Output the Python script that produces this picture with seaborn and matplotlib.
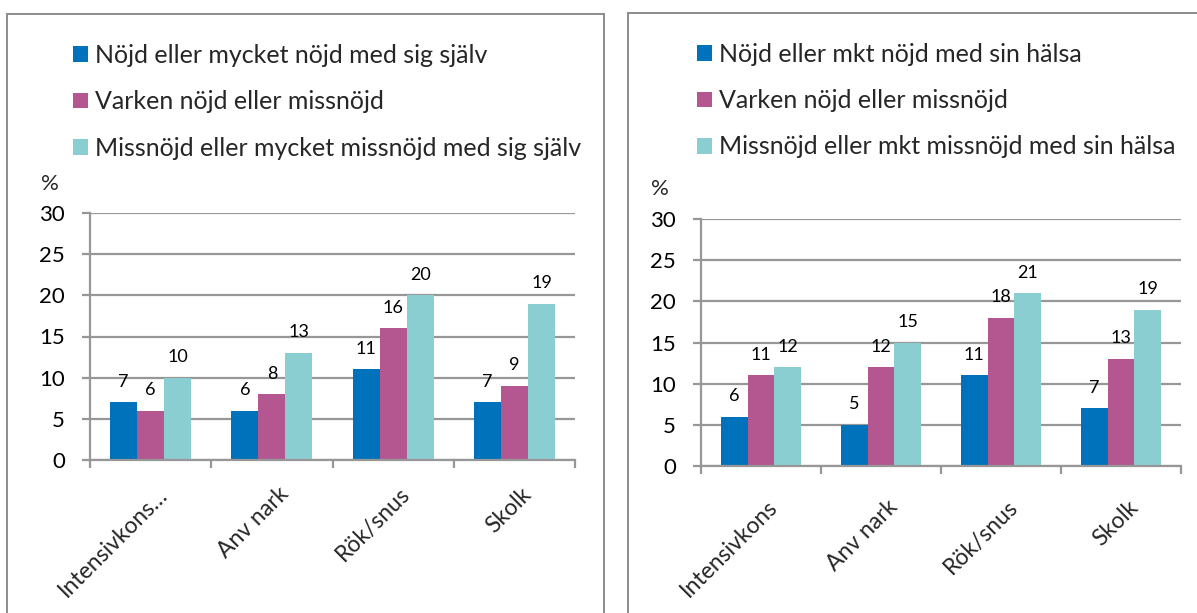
import matplotlib
matplotlib.use("Agg")
import matplotlib.pyplot as plt
from matplotlib.patches import Rectangle
from matplotlib.transforms import ScaledTranslation
import seaborn as sns
import pandas as pd

# ---- data ----
categories_left = ["Intensivkons…", "Anv nark", "Rök/snus", "Skolk"]
series_left = ["Nöjd eller mycket nöjd med sig själv",
               "Varken nöjd eller missnöjd",
               "Missnöjd eller mycket missnöjd med sig själv"]
left_nojd = [7, 6, 11, 7]
left_varken = [6, 8, 16, 9]
left_missnojd = [10, 13, 20, 19]

categories_right = ["Intensivkons", "Anv nark", "Rök/snus", "Skolk"]
series_right = ["Nöjd eller mkt nöjd med sin hälsa",
                "Varken nöjd eller missnöjd",
                "Missnöjd eller mkt missnöjd med sin hälsa"]
right_nojd = [6, 5, 11, 7]
right_varken = [11, 12, 18, 13]
right_missnojd = [12, 15, 21, 19]

y_ticks = [0, 5, 10, 15, 20, 25, 30]
colors = ["#0072BC", "#B4568F", "#8BCED2"]
GRID = "#979797"

sns.set_theme(style="white")
FONT = ["Lato", "DejaVu Sans"]
plt.rcParams["font.family"] = FONT

W, H = 1197, 613
fig = plt.figure(figsize=(W / 100, H / 100), dpi=100)
fig.patch.set_facecolor("white")


def long_df(cats, series, vals):
    rows = []
    for s, v in zip(series, vals):
        for c, x in zip(cats, v):
            rows.append({"cat": c, "series": s, "value": x})
    return pd.DataFrame(rows)


def px_rect(x0, y0, x1, y1):
    # pixel coords (top-left origin) -> figure fraction [left, bottom, w, h]
    return [x0 / W, 1 - y1 / H, (x1 - x0) / W, (y1 - y0) / H]


def draw_panel(box, axrect, cats, series, vals, leg_xy, pct_xy, xpad):
    # border box
    fig.add_artist(Rectangle((box[0] / W, 1 - box[3] / H),
                             (box[2] - box[0]) / W, (box[3] - box[1]) / H,
                             transform=fig.transFigure, fill=False,
                             edgecolor="#8C8C8C", linewidth=1.4, zorder=0))
    ax = fig.add_axes(px_rect(*axrect))
    df = long_df(cats, series, vals)
    sns.barplot(data=df, x="cat", y="value", hue="series", order=cats,
                hue_order=series, palette=colors, width=0.67, gap=0,
                linewidth=0, saturation=1, ax=ax, errorbar=None)
    ax.set_ylim(0, 30)
    ax.set_xlim(-0.5, len(cats) - 0.5)
    ax.set_yticks(y_ticks)
    ax.set_yticklabels([str(t) for t in y_ticks], fontsize=16, color="#000000")
    ax.yaxis.grid(True, color=GRID, linewidth=1.6)
    ax.set_axisbelow(True)
    for s in ["top", "right"]:
        ax.spines[s].set_visible(False)
    for s in ["left", "bottom"]:
        ax.spines[s].set_color(GRID)
        ax.spines[s].set_linewidth(1.6)
    ax.set_xlabel("")
    ax.set_ylabel("")
    ax.tick_params(axis="y", length=6, width=1.6, color=GRID, pad=12, left=True)
    # category separators as minor ticks
    ax.set_xticks([i - 0.5 for i in range(len(cats) + 1)], minor=True)
    ax.tick_params(axis="x", which="minor", length=6, width=1.6, color=GRID,
                   bottom=True, direction="out")
    ax.tick_params(axis="x", which="major", length=0, pad=xpad)
    ax.set_xticks(range(len(cats)))
    ax.set_xticklabels(cats, rotation=45, ha="right", va="top",
                       rotation_mode="anchor", fontsize=16.5)
    off = ScaledTranslation(6 / 100, 0, fig.dpi_scale_trans)
    for lab in ax.get_xticklabels():
        lab.set_transform(lab.get_transform() + off)
    # value labels
    for cont in ax.containers:
        ax.bar_label(cont, fmt="%d", padding=9, fontsize=13, color="#000000")
    # legend
    handles, labels = ax.get_legend_handles_labels()
    ax.get_legend().remove()
    fig.legend(handles, labels, loc="upper left",
               bbox_to_anchor=(leg_xy[0] / W, 1 - leg_xy[1] / H),
               frameon=False, fontsize=18, borderpad=0, borderaxespad=0,
               handlelength=0.6, handleheight=0.6, handletextpad=0.28,
               labelspacing=0.93)
    fig.text(pct_xy[0] / W, 1 - pct_xy[1] / H, "%", fontsize=16,
             ha="left", va="center")
    return ax


draw_panel((7, 14, 604, 640), (90, 213, 575, 460), categories_left,
           series_left, [left_nojd, left_varken, left_missnojd],
           (73, 44), (41, 184), 17)
draw_panel((628, 13, 1230, 640), (701, 219, 1181, 466), categories_right,
           series_right, [right_nojd, right_varken, right_missnojd],
           (697, 43), (651, 189), 22)

fig.savefig("out.png", dpi=100)
